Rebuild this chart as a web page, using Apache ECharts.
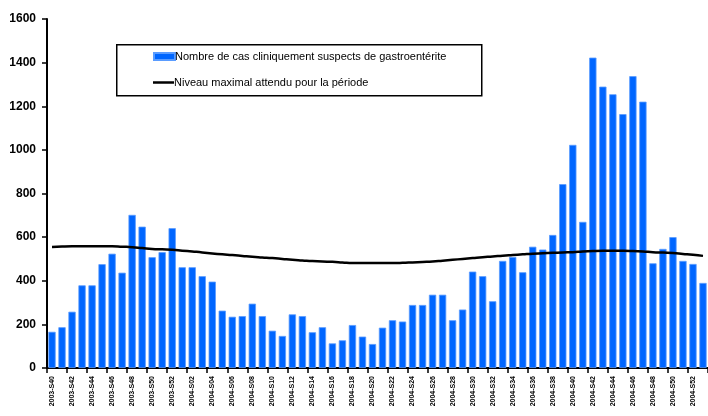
<!DOCTYPE html>
<html>
<head>
<meta charset="utf-8">
<script src="https://cdn.jsdelivr.net/npm/echarts@6/dist/echarts.min.js"></script>
<style>html,body{margin:0;padding:0;background:#fff}#c{width:708px;height:416px}</style>
</head>
<body>
<div id="c"></div>
<script>
var weeks = ["2003-S40","2003-S41","2003-S42","2003-S43","2003-S44","2003-S45","2003-S46","2003-S47","2003-S48","2003-S49","2003-S50","2003-S51","2003-S52",
"2004-S01","2004-S02","2004-S03","2004-S04","2004-S05","2004-S06","2004-S07","2004-S08","2004-S09","2004-S10","2004-S11","2004-S12","2004-S13",
"2004-S14","2004-S15","2004-S16","2004-S17","2004-S18","2004-S19","2004-S20","2004-S21","2004-S22","2004-S23","2004-S24","2004-S25","2004-S26",
"2004-S27","2004-S28","2004-S29","2004-S30","2004-S31","2004-S32","2004-S33","2004-S34","2004-S35","2004-S36","2004-S37","2004-S38","2004-S39",
"2004-S40","2004-S41","2004-S42","2004-S43","2004-S44","2004-S45","2004-S46","2004-S47","2004-S48","2004-S49","2004-S50","2004-S51","2004-S52","2005-S01"];
var cases = [166,187,258,379,379,476,524,437,702,648,
508,531,641,462,462,421,396,263,235,238,
295,238,171,147,246,238,164,187,113,127,
197,144,110,185,219,213,289,289,336,336,
219,268,442,421,306,491,509,439,556,543,
610,843,1023,670,1423,1290,1255,1164,1338,1221,
480,546,600,491,477,390];
var threshold = [555,557,558,558,558,558,558,556,554,550,
546,544,542,538,534,530,525,521,518,514,
510,507,504,500,496,493,490,488,487,484,
481,481,481,481,481,482,484,486,488,492,
496,500,504,508,511,515,518,521,524,526,
528,530,531,534,536,537,537,537,536,534,
531,529,527,523,519,514];
var yTicks = {min:0, max:1600, interval:200};
var seriesNames = ["Nombre de cas cliniquement suspects de gastroentérite","Niveau maximal attendu pour la période"];

var legendText = {fontFamily:'Liberation Sans, Arial', fontSize:11, color:'#000', padding:[0,0,0,-5]};
var chart = echarts.init(document.getElementById('c'), null, {renderer:'canvas'});
chart.setOption({
  animation:false,
  backgroundColor:'#fff',
  grid:{left:47, right:0, top:19, bottom:48, containLabel:false},
  graphic:[{type:'rect', left:116, top:44, shape:{width:365, height:51}, style:{fill:'#fff', stroke:'#000', lineWidth:1.5}, z:10}],
  legend:[
    {orient:'vertical', left:153, top:51, padding:0, itemWidth:21, itemHeight:7, z:20,
     textStyle:legendText, data:[{name:seriesNames[0], icon:'rect'}]},
    {orient:'vertical', left:153, top:77, padding:0, itemWidth:21, itemHeight:2.5, z:20,
     textStyle:legendText, data:[{name:seriesNames[1], icon:'rect', itemStyle:{color:'#000'}}]}
  ],
  xAxis:{
    type:'category', data:weeks, boundaryGap:true,
    axisLine:{lineStyle:{color:'#000', width:2}},
    axisTick:{show:true, interval:1, length:5, lineStyle:{color:'#000', width:1.5}},
    axisLabel:{interval:1, rotate:90, fontSize:7, fontWeight:'bold', color:'#000', fontFamily:'Liberation Sans, Arial', margin:8, padding:[10,0,0,0]}
  },
  yAxis:{
    type:'value', min:yTicks.min, max:yTicks.max, interval:yTicks.interval,
    axisLine:{show:true, lineStyle:{color:'#000', width:2}},
    axisTick:{show:true, length:5, lineStyle:{color:'#000', width:1.5}},
    splitLine:{show:false},
    axisLabel:{fontSize:12, fontWeight:'bold', color:'#000', fontFamily:'Liberation Sans, Arial', margin:11, formatter:function(v){return String(v);}}
  },
  series:[
    {name:seriesNames[0], type:'bar', data:cases, barCategoryGap:'27%',
     itemStyle:{color:'#0066ff', borderColor:'#5a9cff', borderWidth:0.8}},
    {name:seriesNames[1], type:'line', data:threshold, smooth:true, symbol:'none',
     lineStyle:{color:'#000', width:2.5}, itemStyle:{color:'#000'}, z:5}
  ]
});
</script>
</body>
</html>
